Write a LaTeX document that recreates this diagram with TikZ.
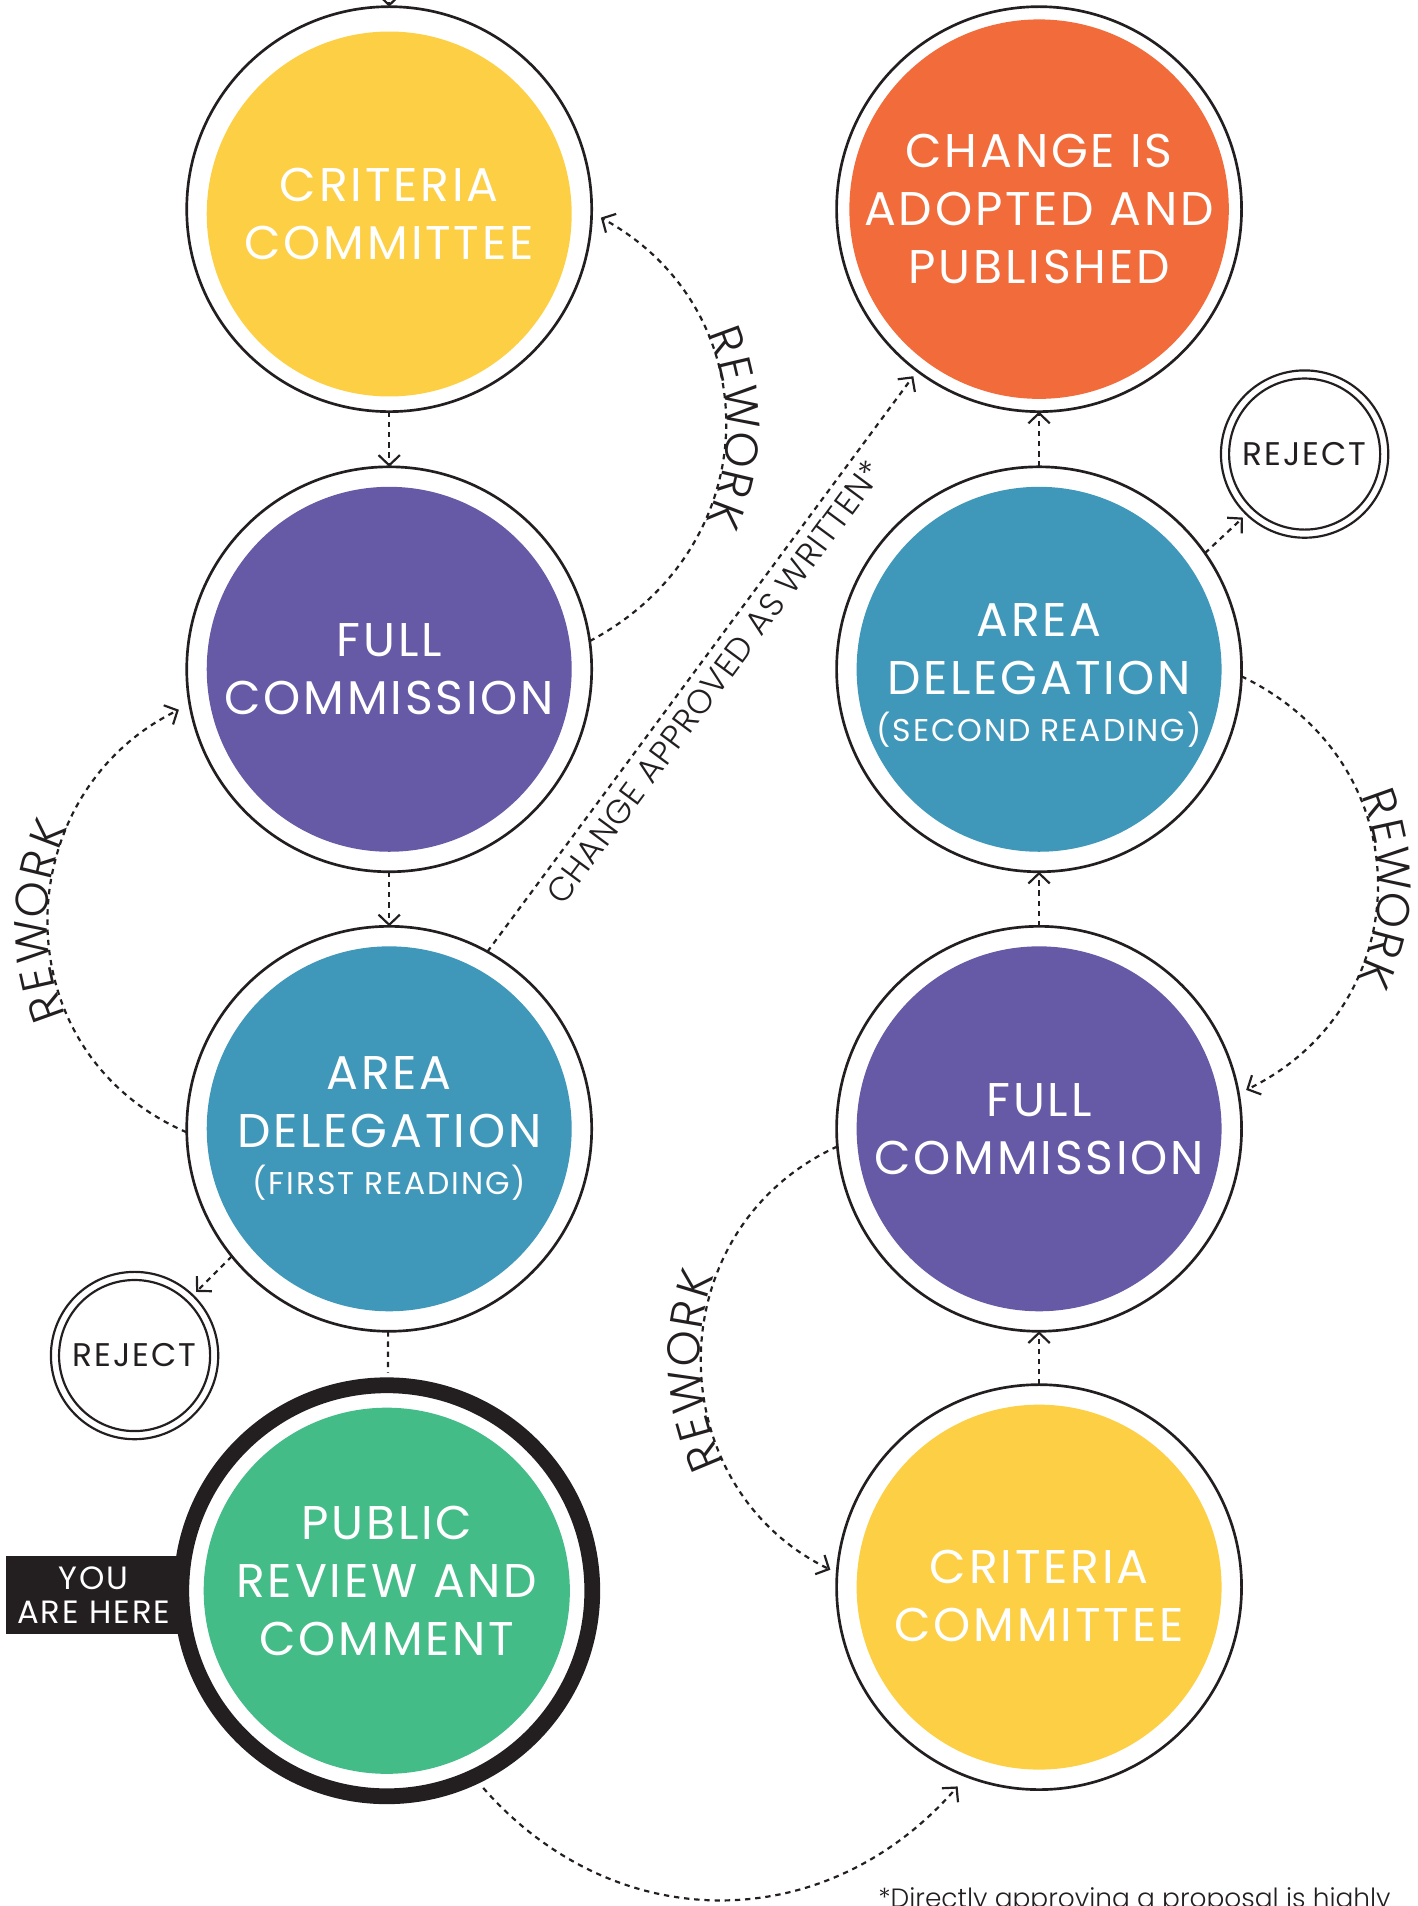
\documentclass[tikz,border=0pt]{standalone}
\usepackage{fontspec}
\setmainfont{Poppins}
\newfontfamily\trkA{Poppins}[LetterSpace=6]
\IfFontExistsTF{Poppins Light}{%
  \newfontfamily\ltB{Poppins Light}[LetterSpace=2.5]%
  \newfontfamily\ltD{Poppins Light}}{%
  \newfontfamily\ltB{Poppins}[LetterSpace=2.5]%
  \newfontfamily\ltD{Poppins}}
\usetikzlibrary{arrows.meta}
\definecolor{ink}{HTML}{231F20}
\definecolor{cyel}{HTML}{FDCF45}
\definecolor{corg}{HTML}{F26B3A}
\definecolor{cpur}{HTML}{6659A5}
\definecolor{cblu}{HTML}{3F97B9}
\definecolor{cgrn}{HTML}{44BC87}
\newcommand\bigfont{\trkA\fontsize{19.5}{23.9}\selectfont}
\newcommand\subfont{\trkA\fontsize{13}{15}\selectfont}
\newcommand\rwfont{\ltD\fontsize{19}{20}\selectfont}
\begin{document}
\begin{tikzpicture}[x=0.5pt,y=0.5pt,
  ring/.style={circle,draw=ink,line width=1.1pt,minimum size=167pt,inner sep=0pt,outer sep=0pt},
  disc/.style={circle,minimum size=150.5pt,inner sep=0pt,text=white,align=center,font=\bigfont},
  rejring/.style={circle,draw=ink,line width=0.9pt,minimum size=69pt,inner sep=0pt,outer sep=0pt},
  rejin/.style={circle,draw=ink,line width=0.9pt,minimum size=62.3pt,inner sep=0pt,text=ink,font=\trkA\fontsize{13.5}{16}\selectfont},
  conn/.style={draw=ink,line width=0.9pt,dash pattern=on 2.2pt off 2pt},
  flow/.style={conn,-{Straight Barb[length=4.2pt,width=8.8pt]}},
  rwl/.style={sloped,allow upside down,anchor=south,inner sep=0.5pt,text=ink,font=\rwfont},
]
\useasboundingbox (0,0) rectangle (1169,-1572);

% left column
\node[ring] (CCL) at (321,-172.5) {};
\node[disc,fill=cyel,yshift=-2pt] (CCLt) at (CCL) {CRITERIA\\COMMITTEE};
\node[ring] (FCL) at (321,-552) {};
\node[disc,fill=cpur] (FCLt) at (FCL) {FULL\\COMMISSION};
\node[ring] (ADL) at (321,-931) {};
\node[disc,fill=cblu] (ADLt) at (ADL) {AREA\\DELEGATION\\[-4.5pt]{\subfont (FIRST READING)}};
\node[fill=ink,text=white,minimum width=72.6pt,minimum height=32.2pt,inner sep=0pt,align=center,font=\trkA\fontsize{13.3}{14}\selectfont] (YAH) at (77.4,-1315.8) {YOU\\ARE HERE};
\node[circle,draw=ink,fill=white,line width=6.5pt,minimum size=169.5pt,inner sep=0pt,outer sep=0pt] (PR) at (319,-1312) {};
\node[disc,fill=cgrn,minimum size=151pt] (PRt) at (PR) {};
\node[inner sep=0pt,text=white,align=center,font=\bigfont] (PRl) at ([yshift=4pt]PR.center) {PUBLIC\\REVIEW AND\\COMMENT};

% right column
\node[ring] (CAP) at (857,-172.5) {};
\node[disc,fill=corg] (CAPt) at (CAP) {CHANGE IS\\ADOPTED AND\\PUBLISHED};
\node[ring] (ADR) at (857,-552) {};
\node[disc,fill=cblu] (ADRt) at (ADR) {};
\node[inner sep=0pt,text=white,align=center,font=\bigfont] (ADRl) at ([yshift=-2.5pt]ADR.center) {AREA\\DELEGATION\\[-4.5pt]{\subfont (SECOND READING)}};
\node[ring] (FCR) at (857,-931) {};
\node[disc,fill=cpur] (FCRt) at (FCR) {FULL\\COMMISSION};
\node[ring] (CCR) at (857,-1309) {};
\node[disc,fill=cyel] (CCRt) at (CCR) {};
\node[inner sep=0pt,text=white,align=center,font=\bigfont] (CCRl) at ([yshift=-3.7pt]CCR.center) {CRITERIA\\COMMITTEE};

% reject
\node[rejring] (RejR) at (1076,-374.5) {};
\node[rejin] (RejRt) at (RejR) {REJECT};
\node[rejring] (RejL) at (111,-1118) {};
\node[rejin] (RejLt) at (RejL) {REJECT};

% straight connectors
\coordinate (topin) at (321,40);
\draw[flow] (topin) -- (CCL);
\draw[flow] (CCL) -- (FCL);
\draw[flow] (FCL) -- (ADL);
\draw[conn,shorten >=5.25pt] (ADL) -- (PR);
\draw[flow] (CCR) -- (FCR);
\draw[flow] (FCR) -- (ADR);
\draw[flow] (ADR) -- (CAP);
\draw[flow,shorten >=2pt] (ADR.35) -- (RejR.226);
\draw[flow,shorten >=2pt] (ADL.219.5) -- (RejL.46);
\draw[flow,shorten >=2.75pt] (ADL.61) -- (CAP.233)
  node[sloped,pos=0.487,below=3.5pt,inner sep=0pt,text=ink,font=\ltB\fontsize{13.8}{16}\selectfont] (capl) {CHANGE APPROVED AS WRITTEN*};

% rework curves
\draw[flow,shorten >=5pt] (ADL.181) to[out=156.6,in=206,looseness=1.22] (FCL.190);
\draw[flow,shorten >=4.3pt] (FCL.8) to[out=27.9,in=-28.6,looseness=1.21] (CCL.-1.6);
\draw[flow,shorten >=3.5pt] (ADR.-2) to[out=-25.6,in=26,looseness=1.24] (FCR.10);
\draw[flow,shorten >=3.1pt] (FCR.185) to[out=204.6,in=154,looseness=1.2] (CCR.176);
\draw[flow,shorten <=6pt,shorten >=5.6pt] (PR.-65) to[out=-48.7,in=229,looseness=1.11] (CCR.249);

% rework labels, letter by letter along the curves
\path (ADL.181) to[out=156.6,in=206,looseness=1.22]
  node[rwl,pos=0.3393] {R} node[rwl,pos=0.3941] {E} node[rwl,pos=0.4625] {W}
  node[rwl,pos=0.5395] {O} node[rwl,pos=0.6034] {R} node[rwl,pos=0.6609] {K} (FCL.190);
\path (CCL.-1.6) to[out=-28.6,in=27.9,looseness=1.21]
  node[rwl,pos=0.3344] {R} node[rwl,pos=0.3909] {E} node[rwl,pos=0.4614] {W}
  node[rwl,pos=0.5407] {O} node[rwl,pos=0.6066] {R} node[rwl,pos=0.6658] {K} (FCL.8);
\path (ADR.-2) to[out=-25.6,in=26,looseness=1.24]
  node[rwl,pos=0.3432] {R} node[rwl,pos=0.3994] {E} node[rwl,pos=0.4695] {W}
  node[rwl,pos=0.5486] {O} node[rwl,pos=0.6141] {R} node[rwl,pos=0.6730] {K} (FCR.10);
\path (CCR.176) to[out=154,in=204.6,looseness=1.2]
  node[rwl,pos=0.3163] {R} node[rwl,pos=0.3711] {E} node[rwl,pos=0.4395] {W}
  node[rwl,pos=0.5165] {O} node[rwl,pos=0.5804] {R} node[rwl,pos=0.6379] {K} (FCR.185);

% footnote
\node[anchor=base west,inner sep=0pt,text=ink,font=\ltD\fontsize{10.9}{13}\selectfont] (foot) at (724,-1573) {*Directly approving a proposal is highly};
\end{tikzpicture}
\end{document}
